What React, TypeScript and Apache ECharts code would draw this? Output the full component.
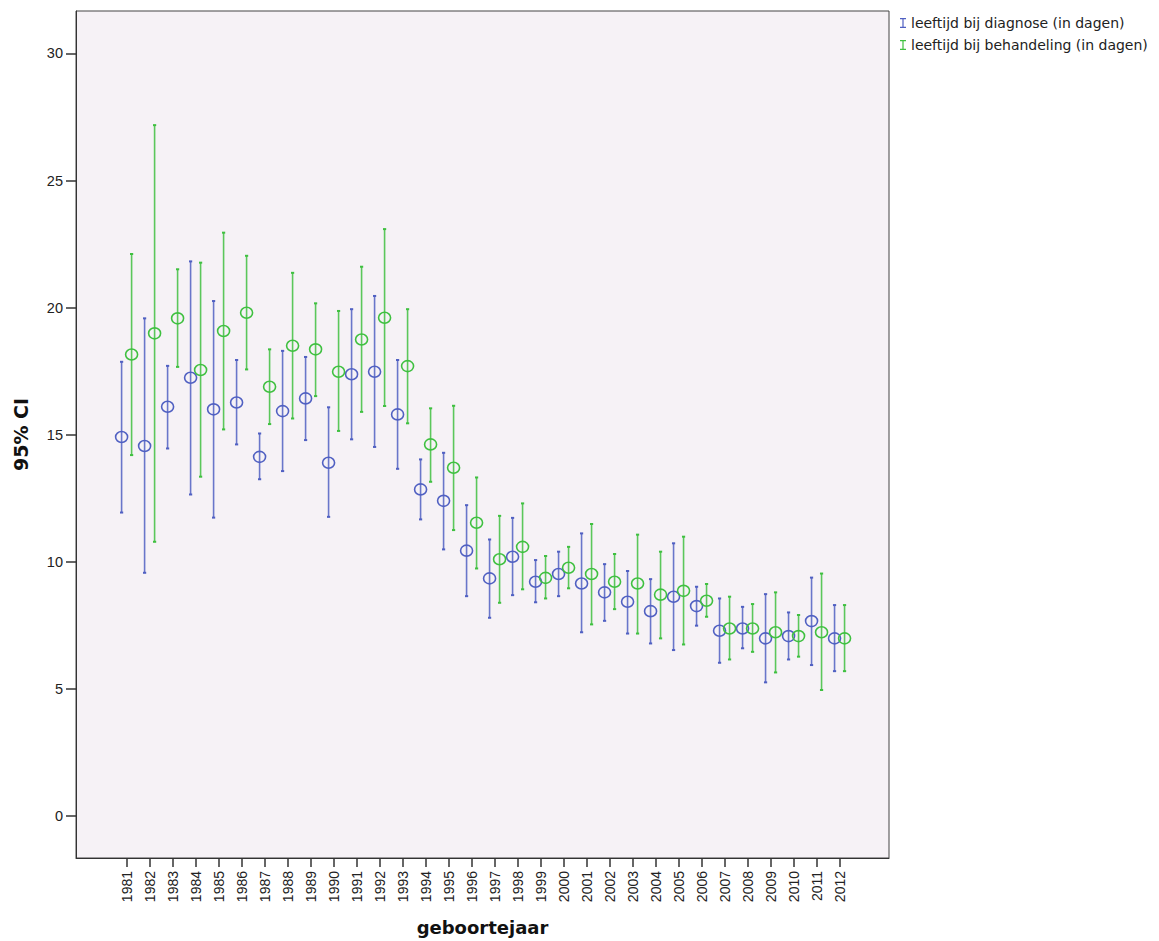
import React, { useEffect, useRef } from "react";
import * as echarts from "echarts";

const years = [
  1981, 1982, 1983, 1984, 1985, 1986, 1987, 1988, 1989, 1990, 1991, 1992, 1993, 1994, 1995, 1996,
  1997, 1998, 1999, 2000, 2001, 2002, 2003, 2004, 2005, 2006, 2007, 2008, 2009, 2010, 2011, 2012,
];

const diagMean = [
  14.91, 14.56, 16.1, 17.24, 16.0, 16.27, 14.13, 15.93, 16.43, 13.9, 17.38, 17.48, 15.8, 12.85, 12.4, 10.44,
  9.35, 10.2, 9.22, 9.52, 9.15, 8.8, 8.43, 8.06, 8.63, 8.26, 7.29, 7.38, 6.99, 7.08, 7.67, 6.99,
];
const diagLow = [
  11.94, 9.57, 14.46, 12.65, 11.74, 14.62, 13.25, 13.57, 14.79, 11.77, 14.82, 14.52, 13.66, 11.67, 10.49, 8.65,
  7.8, 8.69, 8.41, 8.65, 7.23, 7.68, 7.18, 6.79, 6.53, 7.49, 6.03, 6.6, 5.26, 6.16, 5.94, 5.7,
];
const diagHigh = [
  17.87, 19.58, 17.71, 21.82, 20.26, 17.94, 15.05, 18.3, 18.06, 16.08, 19.94, 20.46, 17.94, 14.03, 14.29, 12.23,
  10.88, 11.73, 10.07, 10.4, 11.12, 9.91, 9.64, 9.32, 10.73, 9.02, 8.56, 8.23, 8.73, 8.01, 9.38, 8.3,
];

const behMean = [
  18.16, 18.99, 19.58, 17.55, 19.08, 19.8, 16.89, 18.5, 18.36, 17.48, 18.75, 19.6, 17.7, 14.62, 13.7, 11.54,
  10.1, 10.59, 9.37, 9.77, 9.52, 9.22, 9.15, 8.71, 8.86, 8.47, 7.38, 7.38, 7.23, 7.08, 7.23, 6.99,
];
const behLow = [
  14.2, 10.79, 17.67, 13.35, 15.21, 17.57, 15.42, 15.64, 16.52, 15.15, 15.9, 16.13, 15.45, 13.15, 11.25, 9.74,
  8.39, 8.92, 8.56, 8.96, 7.54, 8.14, 7.18, 6.99, 6.75, 7.84, 6.16, 6.46, 5.65, 6.27, 4.96, 5.7,
];
const behHigh = [
  22.11, 27.18, 21.51, 21.77, 22.95, 22.04, 18.36, 21.37, 20.17, 19.87, 21.61, 23.09, 19.94, 16.04, 16.14, 13.32,
  11.81, 12.3, 10.23, 10.59, 11.49, 10.31, 11.07, 10.4, 10.99, 9.13, 8.63, 8.34, 8.8, 7.91, 9.54, 8.3,
];

const yTicks = [0, 5, 10, 15, 20, 25, 30];

const seriesNames = ["leeftijd bij diagnose (in dagen)", "leeftijd bij behandeling (in dagen)"];
const BLUE = "#5060C2";
const GREEN = "#3FC040";
const LABEL_FONT = "Liberation Sans";

const ICON = "path://M0,0H6V1.2H3.6V8.8H6V10H0V8.8H2.4V1.2H0Z";

function makeRender(color: string, offset: number) {
  return (params: any, api: any) => {
    const x = api.value(0);
    const pm = api.coord([x, api.value(1)]);
    const pl = api.coord([x, api.value(2)]);
    const ph = api.coord([x, api.value(3)]);
    const cx = pm[0] + offset;
    return {
      type: "group",
      children: [
        { type: "line", shape: { x1: cx, y1: ph[1], x2: cx, y2: pl[1] }, style: { stroke: color, lineWidth: 1.6, opacity: 0.85 } },
        { type: "line", shape: { x1: cx - 1.6, y1: ph[1], x2: cx + 1.6, y2: ph[1] }, style: { stroke: color, lineWidth: 2 } },
        { type: "line", shape: { x1: cx - 1.6, y1: pl[1], x2: cx + 1.6, y2: pl[1] }, style: { stroke: color, lineWidth: 2 } },
        { type: "ellipse", shape: { cx, cy: pm[1], rx: 6, ry: 5.5 }, style: { fill: "none", stroke: color, lineWidth: 1.6 } },
      ],
    };
  };
}

export default function App() {
  const ref = useRef<HTMLDivElement>(null);
  useEffect(() => {
    if (!ref.current) return;
    const chart = echarts.init(ref.current, null, { renderer: "svg" });
    const diagData = years.map((y, i) => [y, diagMean[i], diagLow[i], diagHigh[i]]);
    const behData = years.map((y, i) => [y, behMean[i], behLow[i], behHigh[i]]);
    chart.setOption({
      animation: false,
      backgroundColor: "#ffffff",
      textStyle: { fontFamily: LABEL_FONT },
      grid: {
        left: 76,
        right: 270,
        top: 11,
        bottom: 83,
        show: true,
        backgroundColor: "#F6F2F6",
        borderColor: "#444",
        borderWidth: 1,
      },
      legend: {
        orient: "vertical",
        left: 895,
        top: 11,
        itemGap: 8,
        itemWidth: 6,
        itemHeight: 11,
        icon: ICON,
        data: seriesNames,
        textStyle: { fontFamily: "DejaVu Sans", fontSize: 14, color: "#222" },
      },
      xAxis: {
        type: "value",
        min: 1978.8,
        max: 2014.15,
        name: "geboortejaar",
        nameLocation: "middle",
        nameGap: 60,
        nameTextStyle: { fontFamily: "DejaVu Sans", fontWeight: "bold", fontSize: 18, color: "#111" },
        splitLine: { show: false },
        axisLine: { show: true, onZero: false, lineStyle: { color: "#333", width: 1 } },
        axisTick: { show: true, customValues: years, length: 9, lineStyle: { color: "#333", width: 1.5 } },
        axisLabel: {
          customValues: years,
          rotate: 90,
          margin: 13,
          fontFamily: LABEL_FONT,
          fontSize: 14,
          color: "#222",
          formatter: (v: number) => String(Math.round(v)),
        },
      },
      yAxis: {
        type: "value",
        min: -1.65,
        max: 31.67,
        name: "95% CI",
        nameLocation: "middle",
        nameGap: 46,
        nameTextStyle: { fontFamily: "DejaVu Sans", fontWeight: "bold", fontSize: 19, color: "#111" },
        splitLine: { show: false },
        axisLine: { show: true, onZero: false, lineStyle: { color: "#333", width: 1 } },
        axisTick: { show: true, customValues: yTicks, length: 10, lineStyle: { color: "#333", width: 1.5 } },
        axisLabel: { customValues: yTicks, margin: 13, fontFamily: LABEL_FONT, fontSize: 14.5, color: "#222" },
      },
      series: [
        {
          name: seriesNames[0],
          type: "custom",
          itemStyle: { color: BLUE },
          encode: { x: 0, y: [1, 2, 3] },
          renderItem: makeRender(BLUE, -5),
          data: diagData,
        },
        {
          name: seriesNames[1],
          type: "custom",
          itemStyle: { color: GREEN },
          encode: { x: 0, y: [1, 2, 3] },
          renderItem: makeRender(GREEN, 5),
          data: behData,
        },
      ],
    });
    return () => chart.dispose();
  }, []);
  return <div ref={ref} style={{ position: "absolute", left: 0, top: 0, width: 1159, height: 941 }} />;
}
